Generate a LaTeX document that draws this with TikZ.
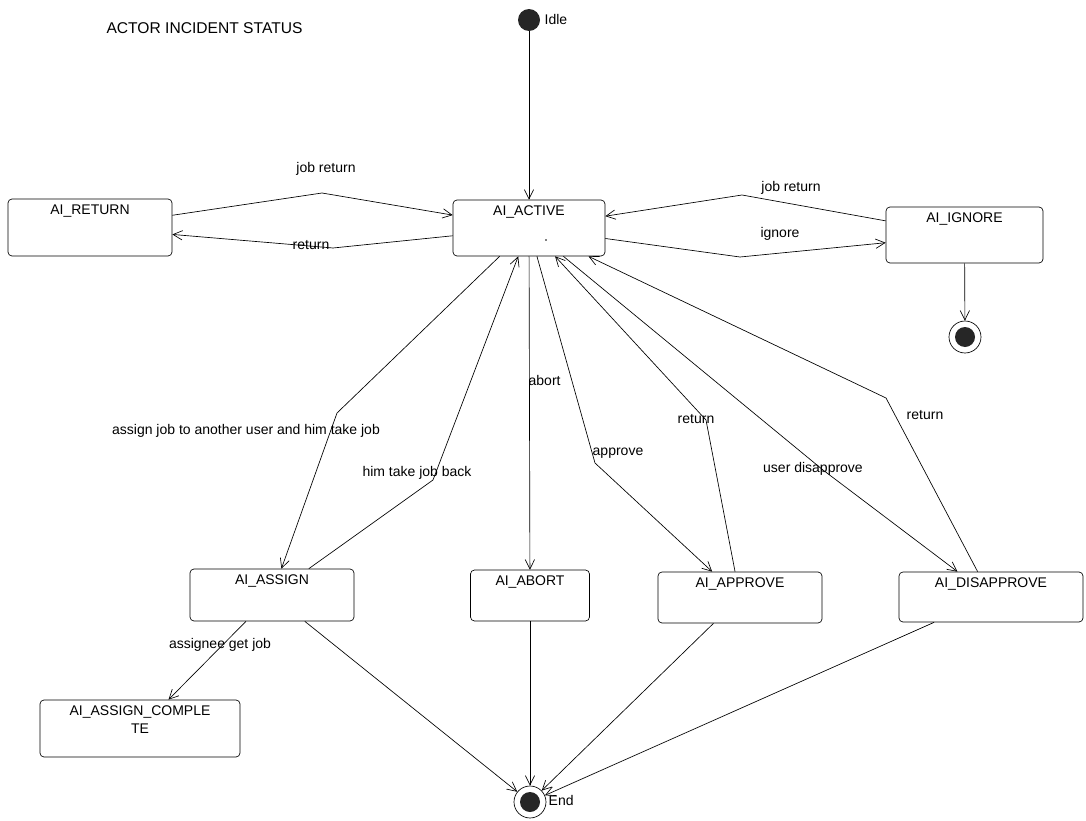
\documentclass[tikz,border=0pt]{standalone}
\usepackage{fontspec}
\setmainfont{Liberation Sans}
\usetikzlibrary{arrows.meta}

\begin{document}
\begin{tikzpicture}[
        x=0.75pt,
        y=-0.75pt,
        font=\fontsize{10.5}{12.5}\selectfont,
        line width=0.5pt,
        state/.style={draw, rounded corners=3pt, inner sep=0pt},
        stname/.style={anchor=north, inner sep=4.5pt, align=center,
            font=\fontsize{10.5}{13.5}\selectfont},
        trans/.style={-{Straight Barb[length=7pt,width=7pt]}},
        initial/.style={circle, fill=black!85, minimum size=16.5pt, inner sep=0pt},
        final/.style={circle, draw, fill=white, minimum size=24pt, inner sep=0pt,
            path picture={\fill[black!85] (path picture bounding box.center) circle (7.5pt);}},
        lbl/.style={inner sep=1pt}
    ]
    \useasboundingbox (0,0) rectangle (1086,821);

    % Title
    \node[font=\fontsize{11.7}{14}\selectfont] (title) at (204.5,28) {ACTOR INCIDENT STATUS};

    % Start and end points
    \node[initial] (idle) at (529,20) {};
    \node[lbl, anchor=west] (lidle) at (543,19) {Idle};
    \node[final] (igend) at (965,337) {};
    \node[final] (fin) at (530,802) {};
    \node[lbl, anchor=west] (lend) at (547,800) {End};

    % States
    \node[state, minimum width=123pt, minimum height=42.75pt,
        label={[stname]north:AI\_RETURN}] (ret) at (90,227.5) {};
    \node[state, minimum width=114pt, minimum height=42pt,
        label={[stname]north:AI\_ACTIVE}] (act) at (529,228) {};
    \fill (546,240) circle (0.6pt);
    \node[state, minimum width=117.75pt, minimum height=42pt,
        label={[stname]north:AI\_IGNORE}] (ign) at (964.5,235) {};
    \node[state, minimum width=123pt, minimum height=39pt,
        label={[stname]north:AI\_ASSIGN}] (asg) at (272,595) {};
    \node[state, minimum width=89.25pt, minimum height=38.25pt,
        label={[stname]north:AI\_ABORT}] (abt) at (530,595.5) {};
    \node[state, minimum width=123pt, minimum height=38.25pt,
        label={[stname]north:AI\_APPROVE}] (app) at (740,597.5) {};
    \node[state, minimum width=138pt, minimum height=37.5pt,
        label={[stname]north:AI\_DISAPPROVE}] (dis) at (991,597) {};
    \node[state, minimum width=150pt, minimum height=42.75pt,
        label={[stname]north:AI\_ASSIGN\_COMPLE\\TE}] (cmp) at (140,728.5) {};

    % Bend points
    \coordinate (bjr) at (322,193);
    \coordinate (bret) at (333,248);
    \coordinate (bjr2) at (742,195);
    \coordinate (bign) at (740,257);
    \coordinate (basg) at (337,413);
    \coordinate (bback) at (433,480);
    \coordinate (bapp) at (595,463);
    \coordinate (bappr) at (706,420);
    \coordinate (bdis) at (823,470);
    \coordinate (bdisr) at (886,398);

    % Transitions
    \draw[trans] (idle) -- (act);
    \draw[trans] (ret) -- (bjr) -- (act);
    \draw[trans] (act) -- (bret) -- (ret);
    \draw[trans] (ign) -- (bjr2) -- (act);
    \draw[trans] (act) -- (bign) -- (ign);
    \draw[trans] (ign) -- (igend);
    \draw[trans] (act) -- (basg) -- (asg);
    \draw[trans] (asg) -- (bback) -- (act);
    \draw[trans] (act) -- (abt);
    \draw[trans] (act) -- (bapp) -- (app);
    \draw[trans] (app) -- (bappr) -- (act);
    \draw[trans] (act) -- (bdis) -- (dis);
    \draw[trans] (dis) -- (bdisr) -- (act);
    \draw[trans] (asg) -- (cmp);
    \draw[trans] (asg) -- (fin);
    \draw[trans] (abt) -- (fin);
    \draw[trans] (app) -- (fin);
    \draw[trans] (dis) -- (fin);

    % Labels
    \node[lbl] (ljr) at (326,169) {job return};
    \node[lbl] (lret) at (311,245) {return};
    \node[lbl] (ljr2) at (791,188) {job return};
    \node[lbl] (lign) at (780,234) {ignore};
    \node[lbl] (lasg) at (246,431) {assign job to another user and him take job};
    \node[lbl] (lback) at (417,473) {him take job back};
    \node[lbl, anchor=west] (labt) at (527,380) {abort};
    \node[lbl] (lapp) at (618,453) {approve};
    \node[lbl] (lappr) at (696,419) {return};
    \node[lbl] (ldis) at (813,469) {user disapprove};
    \node[lbl] (ldisr) at (925,415) {return};
    \node[lbl] (lcmp) at (220,645) {assignee get job};

\end{tikzpicture}
\end{document}
